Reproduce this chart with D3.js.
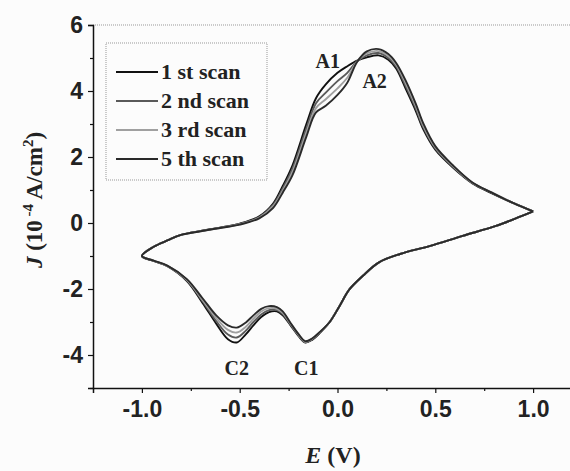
<!DOCTYPE html>
<html lang="en">
  <head>
    <meta charset="utf-8">
    <title>CV scans</title>
    <script src="https://cdn.jsdelivr.net/npm/d3@7/dist/d3.min.js"></script>
    <style>
      body { margin: 0; background: #fcfcfc; }
    </style>
  </head>
  <body>
    <script>
      const WIDTH = 570;
      const HEIGHT = 471;

      // potential (V): 1.0 -> -1.0 -> 1.0
      var potential = [1.0, 0.94, 0.81, 0.64, 0.47, 0.32, 0.21, 0.13, 0.06, 0.01,
        -0.04, -0.09, -0.13, -0.165, -0.2, -0.24, -0.28, -0.31, -0.35, -0.39,
        -0.43, -0.47, -0.515, -0.56, -0.62, -0.69, -0.77, -0.87, -0.94, -1.0,
        -0.94, -0.87, -0.8, -0.7, -0.6, -0.5, -0.4, -0.33, -0.28, -0.23,
        -0.16, -0.11, -0.06, 0.0, 0.05, 0.1, 0.15, 0.21, 0.26, 0.3,
        0.35, 0.4, 0.44, 0.5, 0.59, 0.69, 0.79, 0.9, 1.0];

      // current density (10^-4 A/cm2) per scan
      var scan1 = [0.35, 0.21, -0.09, -0.39, -0.70, -0.94, -1.2, -1.6, -2.02, -2.52,
        -3.0, -3.33, -3.54, -3.62, -3.42, -3.1, -2.8, -2.68, -2.7, -2.85,
        -3.1, -3.38, -3.62, -3.52, -3.05, -2.42, -1.76, -1.31, -1.15, -1.0,
        -0.72, -0.53, -0.36, -0.24, -0.14, -0.02, 0.2, 0.58, 1.12, 1.75,
        2.98, 3.78, 4.2, 4.55, 4.75, 4.92, 5.02, 5.08, 4.95, 4.68,
        4.05, 3.4, 2.82, 2.22, 1.68, 1.2, 0.9, 0.6, 0.35];
      var scan2 = [0.35, 0.21, -0.09, -0.39, -0.70, -0.94, -1.2, -1.6, -2.02, -2.52,
        -3.0, -3.32, -3.53, -3.61, -3.4, -3.08, -2.76, -2.64, -2.64, -2.77,
        -3.0, -3.27, -3.47, -3.38, -2.97, -2.37, -1.74, -1.3, -1.15, -1.0,
        -0.72, -0.53, -0.36, -0.24, -0.14, -0.03, 0.18, 0.54, 1.05, 1.65,
        2.85, 3.63, 3.95, 4.3, 4.55, 4.9, 5.08, 5.15, 5.0, 4.74,
        4.13, 3.47, 2.88, 2.26, 1.7, 1.21, 0.91, 0.6, 0.35];
      var scan3 = [0.35, 0.21, -0.09, -0.39, -0.70, -0.94, -1.2, -1.6, -2.02, -2.52,
        -3.0, -3.31, -3.51, -3.6, -3.38, -3.05, -2.72, -2.6, -2.58, -2.68,
        -2.9, -3.15, -3.32, -3.24, -2.88, -2.33, -1.72, -1.3, -1.14, -1.0,
        -0.72, -0.53, -0.36, -0.25, -0.15, -0.04, 0.16, 0.5, 0.98, 1.55,
        2.72, 3.48, 3.75, 4.08, 4.4, 4.89, 5.14, 5.21, 5.06, 4.8,
        4.22, 3.55, 2.94, 2.3, 1.73, 1.22, 0.92, 0.6, 0.35];
      var scan5 = [0.35, 0.21, -0.09, -0.39, -0.70, -0.94, -1.2, -1.6, -2.02, -2.52,
        -3.0, -3.3, -3.5, -3.58, -3.36, -3.03, -2.68, -2.55, -2.52, -2.6,
        -2.8, -3.02, -3.17, -3.1, -2.8, -2.28, -1.7, -1.29, -1.14, -1.0,
        -0.72, -0.53, -0.36, -0.25, -0.15, -0.05, 0.14, 0.45, 0.92, 1.45,
        2.6, 3.35, 3.55, 3.88, 4.25, 4.88, 5.2, 5.27, 5.12, 4.85,
        4.3, 3.62, 3.0, 2.33, 1.75, 1.23, 0.92, 0.6, 0.35];

      var scanNames = ["1 st scan", "2 nd scan", "3 rd scan", "5 th scan"];
      var scanColors = ["#111", "#5a5a5a", "#a0a0a0", "#2a2a2a"];
      var scans = [scan1, scan2, scan3, scan5];

      var xTicks = [-1.0, -0.5, 0.0, 0.5, 1.0];
      var xMinor = [-0.75, -0.25, 0.25, 0.75];
      var yTicks = [-4, -2, 0, 2, 4, 6];
      var yMinor = [-5, -3, -1, 1, 3, 5];

      var peakLabels = ["A1", "A2", "C1", "C2"];
      var peakE = [-0.05, 0.19, -0.16, -0.515];
      var peakJ = [4.7, 4.1, -4.6, -4.6];

      var svg = d3.select("body").append("svg")
        .attr("width", WIDTH)
        .attr("height", HEIGHT);

      var x = d3.scaleLinear().domain([-1.25, 1.25]).range([93, 582]);
      var y = d3.scaleLinear().domain([-5, 6]).range([388, 25]);

      // plain hyphen for negatives, like the original figure
      function fmt(spec){
        var f = d3.format(spec);
        return function(d){ return f(d).replace("\u2212", "-"); };
      }

      // top frame (dotted, as in the scan)
      svg.append("line")
        .attr("x1", x(-1.25)).attr("x2", WIDTH)
        .attr("y1", y(6)).attr("y2", y(6))
        .attr("stroke", "#999")
        .attr("stroke-dasharray", "1,1");

      var line = d3.line()
        .x(function(d, i){ return x(potential[i]); })
        .y(function(d){ return y(d); })
        .curve(d3.curveCatmullRom.alpha(0.5));

      svg.selectAll(".scan")
        .data(scans)
        .enter().append("path")
        .attr("class", "scan")
        .attr("d", line)
        .attr("fill", "none")
        .attr("stroke", function(d, i){ return scanColors[i]; })
        .attr("stroke-width", 1.9);

      // axes
      var xAxis = svg.append("g")
        .attr("transform", "translate(0," + y(-5) + ")")
        .call(d3.axisBottom(x).tickValues(xTicks).tickSize(5).tickFormat(fmt(".1f")));
      svg.append("g")
        .attr("transform", "translate(0," + y(-5) + ")")
        .call(d3.axisBottom(x).tickValues(xMinor).tickSize(3).tickFormat(""))
        .select(".domain").remove();
      var yAxis = svg.append("g")
        .attr("transform", "translate(" + x(-1.25) + ",0)")
        .call(d3.axisLeft(y).tickValues(yTicks).tickSize(5).tickFormat(fmt("d")));
      svg.append("g")
        .attr("transform", "translate(" + x(-1.25) + ",0)")
        .call(d3.axisLeft(y).tickValues(yMinor).tickSize(3).tickFormat(""))
        .select(".domain").remove();

      svg.selectAll(".domain").attr("stroke", "#111").attr("stroke-width", 1.5);
      svg.selectAll(".tick line").attr("stroke", "#111").attr("stroke-width", 1.2);
      xAxis.selectAll("text")
        .attr("font-family", "Liberation Sans, Arial, sans-serif")
        .attr("font-weight", "bold")
        .attr("font-size", 23)
        .attr("fill", "#222")
        .attr("dy", "0.9em");
      yAxis.selectAll("text")
        .attr("font-family", "Liberation Sans, Arial, sans-serif")
        .attr("font-weight", "bold")
        .attr("font-size", 23)
        .attr("fill", "#222")
        .attr("x", -10);

      // axis titles
      var xt = svg.append("text")
        .attr("x", 333).attr("y", 463)
        .attr("text-anchor", "middle")
        .attr("font-family", "Liberation Serif, Times New Roman, serif")
        .attr("font-weight", "bold")
        .attr("font-size", 24)
        .attr("fill", "#222");
      xt.append("tspan").attr("font-style", "italic").text("E");
      xt.append("tspan").text(" (V)");

      var yt = svg.append("text")
        .attr("transform", "translate(42,200) rotate(-90)")
        .attr("text-anchor", "middle")
        .attr("font-family", "Liberation Serif, Times New Roman, serif")
        .attr("font-weight", "bold")
        .attr("font-size", 23)
        .attr("fill", "#222");
      yt.append("tspan").attr("font-style", "italic").text("J");
      yt.append("tspan").text(" (10");
      yt.append("tspan").attr("font-size", 15).attr("dy", -9).text(" -4");
      yt.append("tspan").attr("dy", 9).text(" A/cm");
      yt.append("tspan").attr("font-size", 15).attr("dy", -9).text("2");
      yt.append("tspan").attr("dy", 9).text(")");

      // peak labels
      svg.selectAll(".peak")
        .data(peakLabels)
        .enter().append("text")
        .attr("class", "peak")
        .attr("x", function(d, i){ return x(peakE[i]); })
        .attr("y", function(d, i){ return y(peakJ[i]); })
        .attr("text-anchor", "middle")
        .attr("font-family", "Liberation Serif, Times New Roman, serif")
        .attr("font-weight", "bold")
        .attr("font-size", 20)
        .attr("fill", "#222")
        .text(function(d){ return d; });

      // legend
      var legend = svg.append("g");
      legend.append("rect")
        .attr("x", 106).attr("y", 43)
        .attr("width", 161).attr("height", 137)
        .attr("fill", "none")
        .attr("stroke", "#999")
        .attr("stroke-dasharray", "1,1");
      var rows = legend.selectAll(".row")
        .data(scanNames)
        .enter().append("g")
        .attr("class", "row")
        .attr("transform", function(d, i){ return "translate(0," + (72 + i * 29) + ")"; });
      rows.append("line")
        .attr("x1", 116).attr("x2", 158)
        .attr("stroke", function(d, i){ return scanColors[i]; })
        .attr("stroke-width", 2);
      rows.append("text")
        .attr("x", 161).attr("y", 7)
        .attr("font-family", "Liberation Serif, Times New Roman, serif")
        .attr("font-weight", "bold")
        .attr("font-size", 22)
        .attr("fill", "#222")
        .text(function(d){ return d; });
    </script>
  </body>
</html>
